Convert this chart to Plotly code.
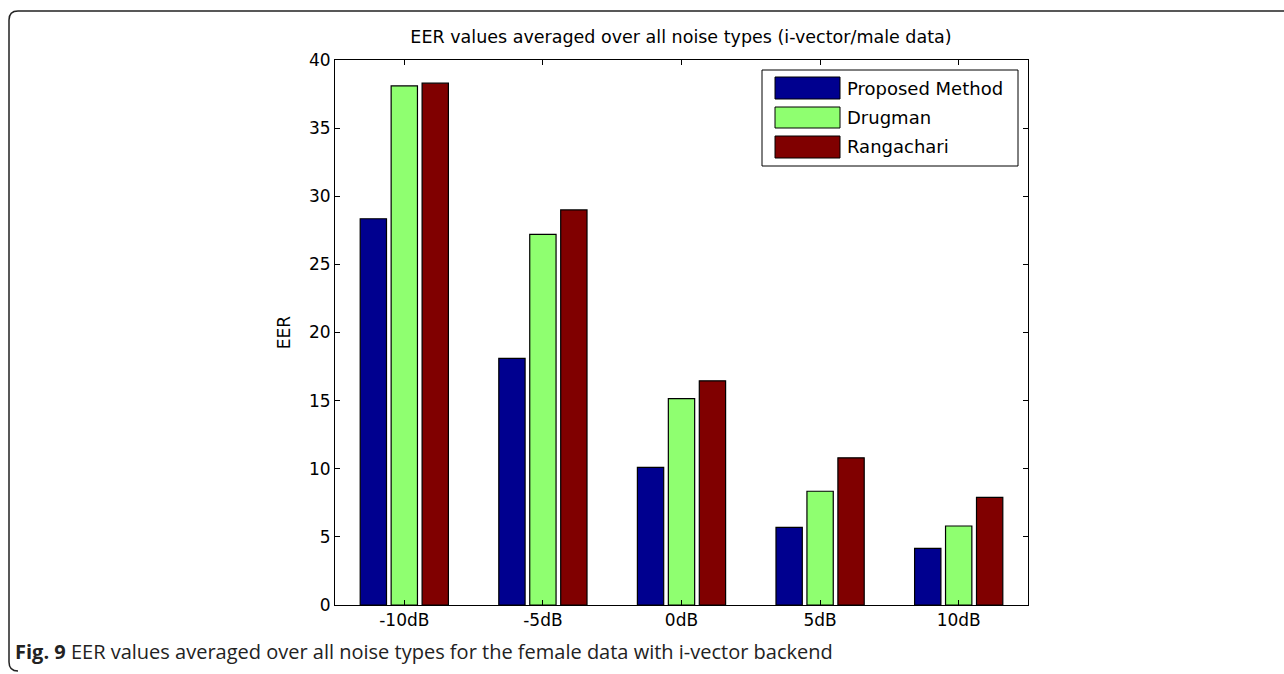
import plotly.graph_objects as go

# Noise levels and averaged EER per method
snr_levels = ["-10dB", "-5dB", "0dB", "5dB", "10dB"]
proposed = [28.35, 18.1, 10.1, 5.7, 4.15]
drugman = [38.1, 27.2, 15.15, 8.35, 5.8]
rangachari = [38.3, 29.0, 16.45, 10.8, 7.9]

series_names = ["Proposed Method", "Drugman", "Rangachari"]
series_values = [proposed, drugman, rangachari]
series_colors = ["#00008F", "#8FFF70", "#800000"]

y_ticks = [0, 5, 10, 15, 20, 25, 30, 35, 40]

W, H = 1284, 674
L, R, T, B = 335, 1028, 60, 605  # plot area in pixels


def px(x):
    return (x - L) / (R - L)


def py(y):
    return (B - y) / (B - T)


positions = list(range(1, len(snr_levels) + 1))

fig = go.Figure()
for name, vals, col in zip(series_names, series_values, series_colors):
    fig.add_trace(go.Bar(
        x=positions, y=vals, name=name,
        marker=dict(color=col, line=dict(color="#000000", width=1.2)),
        showlegend=False,
    ))

font_chart = "DejaVu Sans"

fig.update_layout(
    width=W, height=H,
    margin=dict(l=L, r=W - R, t=T, b=H - B),
    paper_bgcolor="white", plot_bgcolor="white",
    barmode="group", bargap=0.33, bargroupgap=0.15,
    font=dict(family=font_chart, size=17, color="#000000"),
    title=dict(
        text="EER values averaged over all noise types (i-vector/male data)",
        x=px(681), xref="paper", xanchor="center",
        y=1 - 37 / H, yanchor="middle",
        font=dict(family=font_chart, size=17.5, color="#000000"),
    ),
    xaxis=dict(
        range=[0.5, 5.5], tickvals=positions, ticktext=snr_levels,
        showgrid=False, zeroline=False, showline=True, linecolor="#000000",
        linewidth=1, mirror="ticks", ticks="inside", ticklen=5,
        tickcolor="#000000", tickfont=dict(family=font_chart, size=17),
    ),
    yaxis=dict(
        range=[0, 40], tickvals=y_ticks,
        showgrid=False, zeroline=False, showline=True, linecolor="#000000",
        linewidth=1, mirror="ticks", ticks="inside", ticklen=5,
        tickcolor="#000000", tickfont=dict(family=font_chart, size=17),
        title=dict(text="EER", font=dict(family=font_chart, size=17), standoff=14),
    ),
)

shapes = []
annotations = []

# Legend box with swatches
shapes.append(dict(type="rect", xref="paper", yref="paper",
                   x0=px(762), x1=px(1018), y0=py(166), y1=py(70),
                   line=dict(color="#000000", width=1), fillcolor="white", layer="above"))
swatch_rows = [(77, 99), (107, 128), (136, 158)]
for (y0, y1), name, col in zip(swatch_rows, series_names, series_colors):
    shapes.append(dict(type="rect", xref="paper", yref="paper",
                       x0=px(775), x1=px(840), y0=py(y1), y1=py(y0),
                       line=dict(color="#000000", width=1), fillcolor=col, layer="above"))
    annotations.append(dict(xref="paper", yref="paper", x=px(845), y=py((y0 + y1) / 2),
                            xanchor="left", yanchor="middle", showarrow=False,
                            text=name, font=dict(family=font_chart, size=18, color="#000000")))

# Rounded outer frame of the figure panel
x_left, y_top, y_bot, rad = 9, 11, 671, 9
path = (f"M {px(W + 10)},{py(y_top)} L {px(x_left + rad)},{py(y_top)} "
        f"Q {px(x_left)},{py(y_top)} {px(x_left)},{py(y_top + rad)} "
        f"L {px(x_left)},{py(y_bot - rad)} "
        f"Q {px(x_left)},{py(y_bot)} {px(x_left + rad)},{py(y_bot)}")
shapes.append(dict(type="path", xref="paper", yref="paper", path=path,
                   line=dict(color="#222222", width=1.5)))

# Caption
annotations.append(dict(
    xref="paper", yref="paper", x=px(13), y=py(651), xanchor="left", yanchor="middle",
    showarrow=False,
    text="<b>Fig. 9</b> EER values averaged over all noise types for the female data with i-vector backend",
    font=dict(family="Open Sans", size=20, color="#222222"),
))

fig.update_layout(shapes=shapes, annotations=annotations)

fig.write_html("out.html")
